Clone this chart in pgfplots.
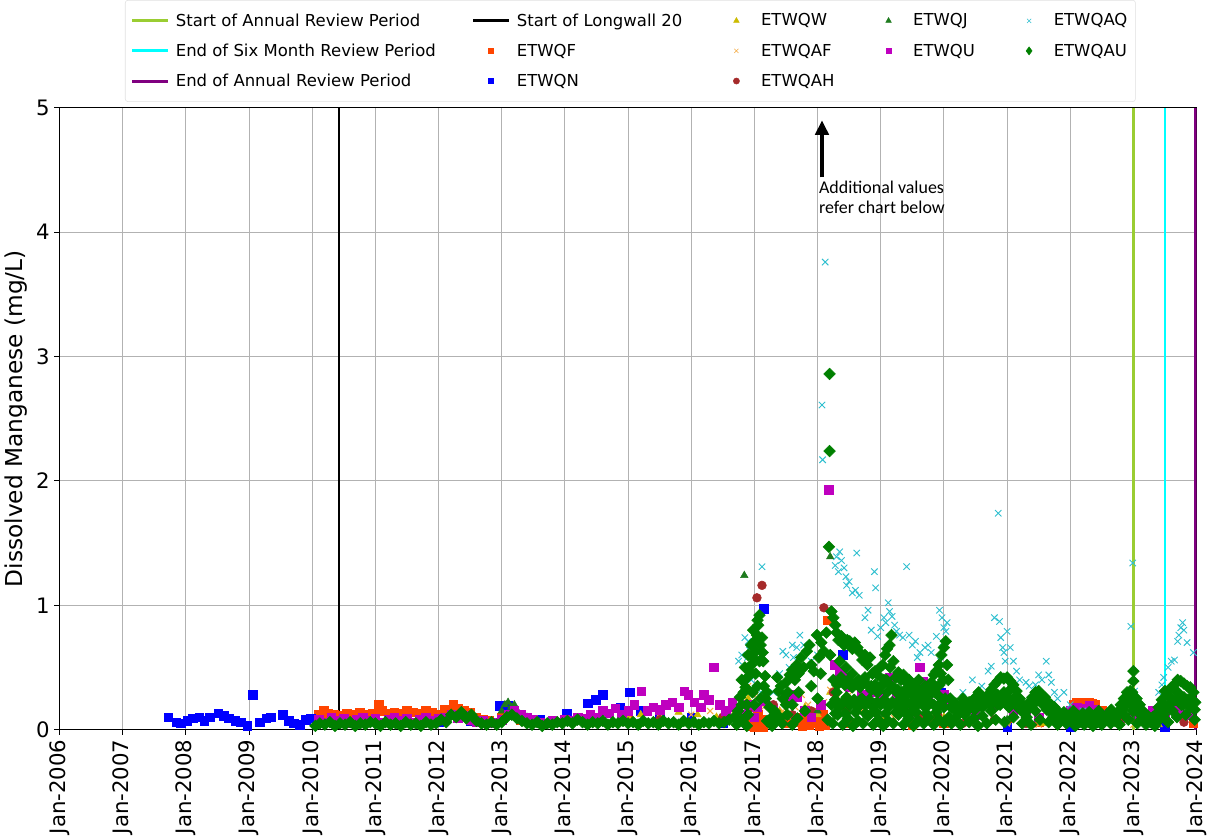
\documentclass[border=0pt]{standalone}
\usepackage{fontspec}
\setmainfont{DejaVu Sans}
\newfontfamily\annfont{Carlito}
\usepackage{pgfplots}
\pgfplotsset{compat=1.18}
\usetikzlibrary{arrows.meta}
\definecolor{cStartAnn}{HTML}{9ACD32}
\definecolor{cSix}{HTML}{00FFFF}
\definecolor{cEndAnn}{HTML}{800080}
\definecolor{cF}{HTML}{FF4500}
\definecolor{cN}{HTML}{0000FF}
\definecolor{cW}{HTML}{CCBB00}
\definecolor{cAF}{HTML}{F4A940}
\definecolor{cAH}{HTML}{A52A2A}
\definecolor{cJ}{HTML}{1E7B1E}
\definecolor{cU}{HTML}{BF00BF}
\definecolor{cAQ}{HTML}{2EBFCF}
\definecolor{cAU}{HTML}{008000}
\begin{document}
\begin{tikzpicture}
\begin{axis}[
  width=855.75pt, height=468pt, scale only axis,
  xmin=2006, xmax=2024, ymin=0, ymax=5,
  xtick={2006,2007,2008,2009,2010,2011,2012,2013,2014,2015,2016,2017,2018,2019,2020,2021,2022,2023,2024},
  xticklabels={Jan-2006,Jan-2007,Jan-2008,Jan-2009,Jan-2010,Jan-2011,Jan-2012,Jan-2013,Jan-2014,Jan-2015,Jan-2016,Jan-2017,Jan-2018,Jan-2019,Jan-2020,Jan-2021,Jan-2022,Jan-2023,Jan-2024},
  x tick label style={rotate=90, anchor=east, font=\fontsize{16}{18}\selectfont},
  ytick={0,1,2,3,4,5},
  y tick label style={font=\fontsize{16}{18}\selectfont},
  /pgf/number format/assume math mode=true,
  tick align=outside, tick pos=left, major tick length=4pt,
  tick style={black, line width=0.8pt},
  grid=major, major grid style={color=black!30, line width=0.8pt},
  axis line style={line width=0.8pt},
  ylabel={Dissolved Manganese (mg/L)},
  ylabel style={font=\fontsize{17.5}{20}\selectfont},
  legend columns=5,
  legend cell align=left,
  legend style={at={(0.502,1)}, anchor=south, yshift=4.5pt,
    font=\fontsize{12.4}{15}\selectfont, draw=black!12, rounded corners=2pt,
    row sep=7.75pt, inner xsep=4pt, inner ysep=8pt,
    /tikz/every even column/.append style={column sep=25pt}},
  legend image code/.code={\path (0cm,0cm) (1.05cm,0cm);
    \draw[mark repeat=2,mark phase=2] plot coordinates {(0cm,0cm)(0.475cm,0cm)(0.95cm,0cm)};},
]
% ---- legend (row-wise order for 5 columns) ----
\addlegendimage{cStartAnn, line width=2.2pt}
\addlegendentry{Start of Annual Review Period}
\addlegendimage{black, line width=2.2pt}
\addlegendentry{Start of Longwall 20}
\addlegendimage{only marks, mark=triangle*, mark size=2.4pt, cW}
\addlegendentry{ETWQW}
\addlegendimage{only marks, mark=triangle*, mark size=2.4pt, cJ}
\addlegendentry{ETWQJ}
\addlegendimage{only marks, mark=x, mark size=2.2pt, cAQ}
\addlegendentry{ETWQAQ}
\addlegendimage{cSix, line width=2.2pt}
\addlegendentry{End of Six Month Review Period}
\addlegendimage{only marks, mark=square*, mark size=2pt, cF}
\addlegendentry{ETWQF}
\addlegendimage{only marks, mark=x, mark size=2.2pt, cAF}
\addlegendentry{ETWQAF}
\addlegendimage{only marks, mark=square*, mark size=2pt, cU}
\addlegendentry{ETWQU}
\addlegendimage{only marks, mark=diamond*, mark size=3pt, cAU}
\addlegendentry{ETWQAU}
\addlegendimage{cEndAnn, line width=2.2pt}
\addlegendentry{End of Annual Review Period}
\addlegendimage{only marks, mark=square*, mark size=2pt, cN}
\addlegendentry{ETWQN}
\addlegendimage{only marks, mark=*, mark size=2.3pt, cAH}
\addlegendentry{ETWQAH}
\addlegendimage{empty legend}
\addlegendentry{}
\addlegendimage{empty legend}
\addlegendentry{}

% ---- ETWQF ----
\addplot[forget plot, only marks, mark=square*, mark size=3.2pt, cF] coordinates {
(2010.1,0.12) (2010.18,0.15) (2010.25,0.13) (2010.35,0.12) (2010.45,0.11) (2010.55,0.13) (2010.65,0.12) (2010.75,0.14) (2010.85,0.12) (2010.95,0.13)
(2011.05,0.2) (2011.1,0.15) (2011.2,0.13) (2011.3,0.14) (2011.4,0.13) (2011.5,0.15) (2011.6,0.14) (2011.7,0.13) (2011.8,0.15) (2011.9,0.14)
(2012.0,0.12) (2012.1,0.16) (2012.23,0.2) (2012.3,0.17) (2012.4,0.15) (2012.5,0.14) (2012.6,0.1) (2012.7,0.08) (2012.8,0.07)
(2013.0,0.1) (2013.3,0.08) (2013.6,0.06) (2014.0,0.07) (2014.5,0.08) (2015.0,0.09) (2015.5,0.1) (2016.0,0.08) (2016.5,0.07)
(2016.9,0.05) (2016.93,0.08) (2016.96,0.03) (2016.99,0.1) (2017.02,0.05) (2017.05,0.12) (2017.08,0.03) (2017.11,0.08) (2017.14,0.02) (2017.0,0.02)
(2017.5,0.05) (2017.7,0.06) (2017.73,0.1) (2017.76,0.03) (2017.8,0.08) (2017.83,0.12) (2017.86,0.04) (2017.9,0.09) (2017.93,0.14) (2017.96,0.05)
(2018.0,0.1) (2018.03,0.03) (2018.06,0.07) (2018.09,0.12) (2018.12,0.04) (2018.15,0.88) (2018.2,0.06) (2018.5,0.05) (2019.0,0.06) (2019.5,0.04)
(2019.8,0.08) (2020.0,0.05) (2021.0,0.05) (2021.5,0.06)
(2022.05,0.2) (2022.1,0.22) (2022.15,0.21) (2022.2,0.22) (2022.25,0.2) (2022.3,0.22) (2022.35,0.21) (2022.4,0.2) (2022.5,0.15) (2023.0,0.1) (2023.5,0.08) (2023.95,0.05)
};
% ---- ETWQN ----
\addplot[forget plot, only marks, mark=square*, mark size=3.2pt, cN] coordinates {
(2007.72,0.10) (2007.85,0.06) (2007.92,0.05) (2008.02,0.07) (2008.11,0.09) (2008.21,0.10) (2008.29,0.07) (2008.38,0.10)
(2008.51,0.13) (2008.60,0.11) (2008.68,0.09) (2008.78,0.07) (2008.87,0.06) (2008.97,0.03) (2009.06,0.28) (2009.17,0.06)
(2009.27,0.09) (2009.34,0.10) (2009.53,0.12) (2009.63,0.07) (2009.71,0.05) (2009.80,0.04) (2009.90,0.08) (2009.98,0.09)
(2010.1,0.07) (2010.5,0.08) (2011.0,0.07) (2011.5,0.08) (2012.0,0.06) (2012.5,0.07) (2012.97,0.19) (2013.10,0.19) (2013.3,0.1) (2013.6,0.08)
(2014.03,0.13) (2014.2,0.1) (2014.36,0.21) (2014.49,0.24) (2014.60,0.28) (2014.88,0.18) (2015.03,0.30) (2015.2,0.15) (2015.5,0.12) (2016.0,0.1)
(2016.5,0.05) (2017.0,0.1) (2017.15,0.97) (2018.4,0.6) (2019.95,0.3) (2020.0,0.2) (2021.0,0.02) (2022.0,0.02) (2023.5,0.02)
};
% ---- ETWQW ----
\addplot[forget plot, only marks, mark=triangle*, mark size=3.2pt, cW] coordinates {
(2010.3,0.05) (2010.8,0.04) (2011.3,0.06) (2011.9,0.05) (2012.5,0.08) (2013.0,0.06) (2013.5,0.05) (2014.0,0.06) (2014.5,0.08)
(2015.0,0.1) (2015.2,0.12) (2015.5,0.1) (2015.8,0.14) (2016.1,0.12) (2016.4,0.1) (2016.7,0.15) (2016.9,0.25) (2017.0,0.3)
(2017.2,0.2) (2017.4,0.15) (2017.6,0.22) (2017.8,0.18) (2018.0,0.12) (2018.2,0.3) (2018.4,0.2) (2018.6,0.15) (2018.8,0.22)
(2019.0,0.1) (2019.3,0.15) (2019.6,0.08) (2020.0,0.1) (2020.4,0.05) (2021.0,0.06) (2021.6,0.05) (2022.2,0.04) (2022.8,0.05) (2023.4,0.04)
};
% ---- ETWQAF ----
\addplot[forget plot, only marks, mark=x, mark size=3.2pt, line width=0.8pt, cAF] coordinates {
(2014.5,0.05) (2015.0,0.08) (2015.5,0.1) (2016.0,0.12) (2016.3,0.15) (2016.6,0.1) (2016.8,0.2) (2016.9,0.35) (2017.0,0.3) (2017.05,0.25)
(2017.15,0.18) (2017.3,0.2) (2017.45,0.15) (2017.55,0.25) (2017.65,0.18) (2017.75,0.28) (2017.85,0.2) (2017.95,0.15) (2018.1,0.22)
(2018.2,0.32) (2018.3,0.25) (2018.4,0.18) (2018.5,0.28) (2018.6,0.2) (2018.7,0.15) (2018.8,0.25) (2018.9,0.18) (2019.0,0.12)
(2019.1,0.2) (2019.2,0.1) (2019.4,0.15) (2019.6,0.08) (2019.8,0.12) (2020.0,0.1) (2020.2,0.05) (2020.5,0.08) (2021.0,0.05)
(2021.5,0.04) (2022.0,0.05) (2023.0,0.04)
};
% ---- ETWQAH ----
\addplot[forget plot, only marks, mark=*, mark size=3.3pt, cAH] coordinates {
(2010.5,0.05) (2011.5,0.06) (2012.5,0.07) (2013.5,0.05) (2014.5,0.06) (2015.5,0.08) (2016.5,0.1) (2016.9,0.15) (2017.04,1.06)
(2017.12,1.16) (2017.3,0.2) (2017.6,0.12) (2017.9,0.15) (2018.1,0.98) (2018.25,0.3) (2018.45,0.15) (2018.7,0.2) (2019.0,0.25)
(2019.3,0.15) (2019.6,0.1) (2019.9,0.12) (2020.3,0.05) (2020.8,0.08) (2021.3,0.05) (2021.8,0.06) (2022.3,0.05) (2022.8,0.07)
(2023.3,0.05) (2023.8,0.06)
};
% ---- ETWQJ ----
\addplot[forget plot, only marks, mark=triangle*, mark size=3.2pt, cJ] coordinates {
(2013.0,0.15) (2013.05,0.2) (2013.1,0.22) (2013.15,0.18) (2013.2,0.2) (2013.25,0.15) (2013.3,0.12) (2013.4,0.1) (2013.6,0.06)
(2014.0,0.05) (2014.5,0.06) (2015.0,0.05) (2015.5,0.06) (2016.0,0.05) (2016.84,1.24) (2017.0,0.2) (2017.5,0.1) (2018.0,0.15)
(2018.2,1.39) (2018.3,0.25) (2018.6,0.2) (2019.0,0.12) (2019.5,0.1) (2020.0,0.08) (2020.5,0.1) (2021.0,0.08) (2021.5,0.1)
(2022.0,0.06) (2022.5,0.08) (2023.0,0.1) (2023.5,0.08)
};
% ---- ETWQU ----
\addplot[forget plot, only marks, mark=square*, mark size=3.2pt, cU] coordinates {
(2010.1,0.08) (2010.2,0.06) (2010.3,0.1) (2010.4,0.07) (2010.5,0.09) (2010.6,0.05) (2010.7,0.08) (2010.8,0.1) (2010.9,0.07)
(2011.0,0.09) (2011.1,0.06) (2011.2,0.08) (2011.3,0.1) (2011.4,0.07) (2011.5,0.09) (2011.6,0.06) (2011.7,0.08) (2011.8,0.1) (2011.9,0.07)
(2012.0,0.09) (2012.1,0.1) (2012.2,0.12) (2012.3,0.09) (2012.4,0.11) (2012.5,0.08) (2012.6,0.06) (2012.7,0.07) (2012.8,0.05) (2012.9,0.06)
(2013.0,0.08) (2013.1,0.12) (2013.2,0.15) (2013.3,0.12) (2013.4,0.1) (2013.5,0.08) (2013.6,0.06) (2013.7,0.05) (2013.8,0.07) (2013.9,0.06)
(2014.0,0.08) (2014.1,0.07) (2014.2,0.1) (2014.3,0.09) (2014.4,0.12) (2014.5,0.1) (2014.6,0.15) (2014.7,0.13) (2014.8,0.17) (2014.9,0.12)
(2015.0,0.15) (2015.1,0.2) (2015.21,0.31) (2015.3,0.15) (2015.4,0.18) (2015.5,0.16) (2015.6,0.2) (2015.7,0.22) (2015.8,0.18) (2015.89,0.31)
(2015.95,0.28) (2016.05,0.22) (2016.15,0.18) (2016.2,0.28) (2016.28,0.24) (2016.36,0.5) (2016.45,0.2) (2016.55,0.15) (2016.65,0.22)
(2016.7,0.18) (2016.8,0.12) (2016.9,0.2) (2017.0,0.1) (2017.04,0.18) (2017.17,0.23) (2017.3,0.15) (2017.5,0.26) (2017.6,0.28)
(2017.67,0.26) (2017.8,0.15) (2017.9,0.1) (2018.05,0.2) (2018.18,1.93) (2018.27,0.52) (2018.35,0.47) (2018.46,0.42) (2018.5,0.34)
(2018.6,0.36) (2018.7,0.28) (2018.85,0.3) (2018.9,0.22) (2019.0,0.28) (2019.1,0.39) (2019.14,0.42) (2019.25,0.26) (2019.35,0.23)
(2019.45,0.2) (2019.55,0.28) (2019.62,0.5) (2019.67,0.39) (2019.75,0.28) (2019.88,0.31) (2020.0,0.28) (2020.1,0.2) (2020.3,0.15)
(2020.5,0.12) (2020.8,0.2) (2020.95,0.23) (2021.1,0.15) (2021.3,0.12) (2021.5,0.1) (2021.8,0.12) (2022.0,0.15) (2022.1,0.18)
(2022.2,0.17) (2022.3,0.19) (2022.4,0.16) (2022.6,0.12) (2022.9,0.1) (2023.1,0.12) (2023.3,0.15) (2023.5,0.12) (2023.7,0.18)
(2023.72,0.16) (2023.9,0.12)
};
% ---- ETWQAQ ----
\addplot[forget plot, only marks, mark=x, mark size=3.4pt, line width=0.7pt, cAQ] coordinates {
(2016.75,0.55) (2016.8,0.6) (2016.85,0.74) (2016.89,0.58) (2016.87,0.51) (2016.9,0.71) (2016.92,0.64) (2016.95,0.4) (2017.12,1.31)
(2017.1,0.3) (2017.2,0.2) (2017.3,0.3) (2017.4,0.45) (2017.45,0.63) (2017.5,0.6) (2017.55,0.5) (2017.6,0.68) (2017.62,0.58)
(2017.67,0.66) (2017.72,0.76) (2017.78,0.68) (2017.85,0.66) (2017.9,0.55) (2018.0,0.6)
(2018.07,2.61) (2018.08,2.17) (2018.12,3.76)
(2018.28,1.32) (2018.3,1.39) (2018.33,1.27) (2018.35,1.43) (2018.38,1.36) (2018.42,1.3) (2018.45,1.23) (2018.5,1.19) (2018.46,1.16)
(2018.55,1.1) (2018.6,1.12) (2018.62,1.42) (2018.66,1.08) (2018.9,1.27) (2018.92,1.14)
(2018.75,0.9) (2018.8,0.96) (2018.85,0.8) (2018.95,0.75) (2019.0,0.82) (2019.05,0.9) (2019.08,0.86) (2019.12,1.02) (2019.14,0.95)
(2019.18,0.91) (2019.22,0.84) (2019.25,0.79) (2019.3,0.76) (2019.35,0.74) (2019.41,1.31) (2019.45,0.76) (2019.5,0.68) (2019.55,0.71)
(2019.58,0.58) (2019.62,0.62) (2019.7,0.66) (2019.75,0.68) (2019.8,0.62) (2019.88,0.75) (2019.93,0.96) (2019.97,0.9) (2020.0,0.82)
(2020.03,0.79) (2020.05,0.86) (2019.98,0.7) (2019.95,0.55)
(2020.3,0.3) (2020.45,0.4) (2020.6,0.35) (2020.7,0.47) (2020.75,0.51) (2020.8,0.9) (2020.86,1.74) (2020.88,0.87) (2020.9,0.74)
(2020.93,0.66) (2020.95,0.62) (2020.97,0.55) (2021.0,0.79) (2021.05,0.66) (2021.1,0.55) (2021.15,0.47) (2021.2,0.4) (2021.3,0.38)
(2021.35,0.35) (2021.45,0.36) (2021.5,0.44) (2021.55,0.4) (2021.62,0.55) (2021.66,0.44) (2021.7,0.38) (2021.75,0.3) (2021.8,0.25)
(2021.9,0.3) (2022.0,0.2) (2022.2,0.15) (2022.5,0.1) (2022.8,0.15)
(2022.96,0.83) (2022.99,1.34) (2023.02,0.31) (2023.1,0.2)
(2023.4,0.3) (2023.45,0.36) (2023.48,0.42) (2023.55,0.5) (2023.6,0.55) (2023.65,0.56) (2023.7,0.71) (2023.72,0.76) (2023.75,0.82)
(2023.78,0.86) (2023.8,0.8) (2023.85,0.7) (2023.95,0.62)
};
% ---- ETWQAU ----
\addplot[forget plot, only marks, mark=square*, mark size=3.1pt, mark options={rotate=45}, cAU] coordinates {
(2010.05,0.03) (2010.12,0.05) (2010.2,0.04) (2010.28,0.06) (2010.36,0.03) (2010.44,0.05) (2010.52,0.04) (2010.6,0.06) (2010.68,0.03)
(2010.76,0.05) (2010.84,0.04) (2010.92,0.06) (2011.0,0.05) (2011.08,0.03) (2011.16,0.06) (2011.24,0.04) (2011.32,0.05) (2011.4,0.03)
(2011.48,0.06) (2011.56,0.04) (2011.64,0.05) (2011.72,0.03) (2011.8,0.06) (2011.88,0.04) (2011.96,0.05) (2012.04,0.08) (2012.12,0.06)
(2012.2,0.12) (2012.28,0.1) (2012.36,0.14) (2012.44,0.09) (2012.52,0.12) (2012.6,0.07) (2012.68,0.05) (2012.76,0.04) (2012.84,0.06)
(2012.92,0.04) (2013.0,0.06) (2013.08,0.1) (2013.16,0.12) (2013.24,0.09) (2013.32,0.07) (2013.4,0.05) (2013.48,0.04) (2013.56,0.06)
(2013.64,0.03) (2013.72,0.05) (2013.8,0.04) (2013.88,0.06) (2013.96,0.05) (2014.04,0.07) (2014.12,0.05) (2014.2,0.08) (2014.28,0.06)
(2014.36,0.04) (2014.44,0.06) (2014.52,0.05) (2014.6,0.07) (2014.68,0.04) (2014.76,0.06) (2014.84,0.05) (2014.92,0.07) (2015.0,0.05)
(2015.08,0.06) (2015.16,0.04) (2015.24,0.07) (2015.32,0.05) (2015.4,0.06) (2015.48,0.04) (2015.56,0.07) (2015.64,0.05) (2015.72,0.06)
(2015.8,0.04) (2015.88,0.07) (2015.96,0.05) (2016.04,0.06) (2016.12,0.04) (2016.2,0.06) (2016.28,0.05) (2016.36,0.07) (2016.44,0.05)
(2016.52,0.06) (2016.6,0.08) (2016.68,0.1)
(2016.74,0.15) (2016.77,0.26) (2016.8,0.2) (2016.83,0.3) (2016.86,0.34) (2016.89,0.42) (2016.92,0.47) (2016.95,0.52) (2016.98,0.58)
(2017.0,0.71) (2017.02,0.63) (2017.04,0.76) (2017.06,0.84) (2017.08,0.92) (2017.1,0.68) (2017.12,0.74) (2017.14,0.55) (2017.17,0.43)
(2017.2,0.3) (2017.24,0.18) (2017.28,0.1) (2016.9,0.12) (2017.0,0.2) (2017.1,0.25) (2017.05,0.35) (2017.02,0.45) (2017.08,0.55) (2016.97,0.3)
(2016.85,0.5) (2016.9,0.6) (2016.95,0.68) (2016.98,0.8) (2017.05,0.88) (2017.13,0.62) (2017.15,0.35) (2017.18,0.25) (2016.8,0.4) (2016.88,0.2)
(2017.32,0.15) (2017.36,0.42) (2017.38,0.31) (2017.42,0.35) (2017.45,0.25) (2017.5,0.38) (2017.53,0.3) (2017.56,0.44) (2017.6,0.48)
(2017.64,0.4) (2017.67,0.52) (2017.7,0.45) (2017.74,0.58) (2017.78,0.5) (2017.83,0.63) (2017.87,0.68) (2017.9,0.52) (2017.94,0.47)
(2017.99,0.76) (2018.02,0.58) (2018.06,0.7) (2018.1,0.63) (2018.14,0.78) (2018.18,1.47) (2018.19,2.86) (2018.19,2.24)
(2018.22,0.95) (2018.25,0.9) (2018.28,0.84) (2018.3,0.78) (2018.33,0.72) (2018.38,0.75) (2018.42,0.68) (2018.47,0.72) (2018.51,0.71)
(2018.55,0.65) (2018.59,0.7) (2018.63,0.66) (2018.67,0.62) (2018.71,0.56) (2018.75,0.6) (2018.79,0.52) (2018.83,0.58) (2018.87,0.45)
(2018.91,0.47) (2018.95,0.44) (2018.99,0.5) (2019.03,0.52) (2019.07,0.6) (2019.1,0.65) (2019.14,0.68) (2019.17,0.76) (2019.2,0.55)
(2019.24,0.42) (2019.28,0.46) (2019.32,0.4) (2019.36,0.44) (2019.41,0.38) (2019.45,0.4) (2019.5,0.36) (2019.55,0.34) (2019.6,0.4)
(2019.65,0.31) (2019.7,0.35) (2019.75,0.3) (2019.8,0.38) (2019.84,0.44) (2019.88,0.47) (2019.92,0.52) (2019.96,0.6) (2020.0,0.66)
(2020.03,0.71) (2020.05,0.52) (2020.07,0.4) (2020.1,0.25)
(2018.35,0.55) (2018.45,0.5) (2018.55,0.45) (2018.65,0.4) (2018.75,0.42) (2018.85,0.35) (2018.95,0.3) (2019.05,0.4) (2019.15,0.5)
(2019.25,0.3) (2019.4,0.28) (2019.55,0.25) (2019.7,0.27) (2019.85,0.3) (2019.95,0.45) (2017.5,0.2) (2017.7,0.3) (2017.9,0.35)
(2018.05,0.45) (2018.2,0.6)
(2017.4,0.1) (2017.6,0.2) (2017.8,0.15) (2018.0,0.25) (2018.3,0.3) (2018.5,0.2) (2018.7,0.25) (2018.9,0.15) (2019.1,0.3) (2019.3,0.2)
(2019.5,0.15) (2019.7,0.22) (2019.9,0.28) (2020.0,0.18)
(2018.22,0.2) (2018.28,0.24) (2018.34,0.18) (2018.4,0.22) (2018.46,0.26) (2018.52,0.2) (2018.58,0.24) (2018.64,0.18) (2018.7,0.22)
(2018.76,0.2) (2018.82,0.24) (2018.88,0.18) (2018.94,0.22) (2019.0,0.2) (2019.06,0.24) (2019.12,0.18) (2019.18,0.22) (2019.24,0.2)
(2019.3,0.24) (2019.36,0.18) (2019.42,0.22) (2019.48,0.2) (2019.54,0.18) (2019.6,0.22) (2019.66,0.2) (2019.72,0.18) (2019.78,0.22)
(2019.84,0.2) (2019.9,0.18) (2019.96,0.22) (2020.02,0.25)
(2018.25,0.4) (2018.31,0.36) (2018.37,0.42) (2018.43,0.36) (2018.49,0.4) (2018.55,0.34) (2018.61,0.38) (2018.67,0.34) (2018.73,0.4)
(2018.79,0.36) (2018.85,0.32) (2018.91,0.36) (2018.97,0.34) (2019.03,0.36) (2019.09,0.4) (2019.15,0.36) (2019.21,0.34) (2019.27,0.32)
(2019.33,0.3) (2019.39,0.32) (2019.45,0.3) (2019.51,0.28) (2019.57,0.3) (2019.63,0.28) (2019.69,0.3) (2019.75,0.32) (2019.81,0.3)
(2019.87,0.34) (2019.93,0.36) (2019.99,0.4)
(2018.28,0.13) (2018.44,0.13) (2018.6,0.14) (2018.76,0.13) (2018.92,0.14) (2019.08,0.13) (2019.24,0.14) (2019.4,0.13) (2019.56,0.14)
(2019.72,0.13) (2019.88,0.14)
(2016.72,0.04) (2016.8,0.08) (2016.88,0.03) (2017.2,0.07) (2017.28,0.03) (2017.36,0.08) (2017.44,0.05) (2017.52,0.12) (2017.6,0.04)
(2017.68,0.09) (2018.16,0.08) (2018.24,0.05) (2018.32,0.12) (2018.4,0.04) (2018.48,0.09) (2018.56,0.03) (2018.64,0.07) (2018.72,0.05)
(2018.8,0.11) (2018.88,0.04) (2018.96,0.08) (2019.04,0.03) (2019.12,0.07) (2019.2,0.05) (2019.28,0.12) (2019.36,0.04) (2019.44,0.09)
(2019.52,0.03) (2019.6,0.07) (2019.68,0.05) (2019.76,0.1) (2019.84,0.04) (2019.92,0.08) (2020.0,0.05) (2020.08,0.1)
(2020.15,0.2) (2020.2,0.15) (2020.25,0.18) (2020.3,0.25) (2020.35,0.2) (2020.4,0.22) (2020.45,0.18) (2020.5,0.26) (2020.55,0.3)
(2020.6,0.25) (2020.65,0.2) (2020.7,0.28) (2020.75,0.32) (2020.8,0.36) (2020.85,0.39) (2020.9,0.42) (2020.95,0.41) (2021.0,0.42)
(2021.05,0.39) (2021.1,0.36) (2021.15,0.31) (2021.2,0.25) (2021.25,0.2) (2021.3,0.18) (2021.35,0.22) (2021.4,0.26) (2021.45,0.3)
(2021.5,0.31) (2021.55,0.28) (2021.6,0.26) (2021.65,0.22) (2021.7,0.2) (2021.75,0.18) (2021.8,0.15) (2021.85,0.12) (2021.9,0.14)
(2021.95,0.1) (2022.0,0.12) (2022.05,0.15) (2022.1,0.12) (2022.15,0.1) (2022.2,0.13) (2022.25,0.11) (2022.3,0.14) (2022.35,0.1)
(2022.4,0.12) (2022.45,0.15) (2022.5,0.12) (2022.55,0.1) (2022.6,0.13) (2022.65,0.16) (2022.7,0.12) (2022.75,0.14) (2022.8,0.2)
(2022.85,0.25) (2022.9,0.3) (2022.95,0.31) (2023.0,0.39) (2023.0,0.47) (2023.05,0.25) (2023.1,0.2) (2023.15,0.15) (2023.2,0.12)
(2023.25,0.1) (2023.3,0.08) (2023.35,0.12) (2023.4,0.18) (2023.45,0.24) (2023.5,0.31) (2023.55,0.28) (2023.6,0.34) (2023.65,0.36)
(2023.7,0.4) (2023.75,0.39) (2023.8,0.37) (2023.85,0.35) (2023.9,0.34) (2023.95,0.3) (2023.98,0.22)
(2020.12,0.05) (2020.19,0.1) (2020.26,0.04) (2020.33,0.12) (2020.4,0.06) (2020.47,0.09) (2020.54,0.03) (2020.61,0.11) (2020.68,0.05)
(2020.75,0.15) (2020.82,0.08) (2020.89,0.2) (2020.96,0.06) (2021.03,0.25) (2021.1,0.1) (2021.17,0.18) (2021.24,0.05) (2021.31,0.1)
(2021.38,0.04) (2021.45,0.15) (2021.52,0.08) (2021.59,0.2) (2021.66,0.06) (2021.73,0.1) (2021.8,0.04) (2021.87,0.08) (2021.94,0.05)
(2022.01,0.07) (2022.08,0.03) (2022.15,0.06) (2022.22,0.04) (2022.29,0.07) (2022.36,0.03) (2022.43,0.06) (2022.5,0.04) (2022.57,0.08)
(2022.64,0.05) (2022.71,0.07) (2022.78,0.04) (2022.85,0.12) (2022.92,0.08) (2022.99,0.15) (2023.06,0.05) (2023.13,0.08) (2023.2,0.04)
(2023.27,0.06) (2023.34,0.03) (2023.41,0.08) (2023.48,0.12) (2023.55,0.06) (2023.62,0.15) (2023.69,0.1) (2023.76,0.2) (2023.83,0.12)
(2023.9,0.18) (2023.97,0.08)
(2020.85,0.28) (2020.95,0.3) (2021.05,0.32) (2021.12,0.25) (2023.6,0.25) (2023.7,0.3) (2023.8,0.26) (2023.9,0.25) (2023.02,0.22) (2022.98,0.3)
(2020.13,0.17) (2020.19,0.21) (2020.25,0.16) (2020.31,0.2) (2020.37,0.15) (2020.43,0.19) (2020.49,0.16) (2020.55,0.2) (2020.61,0.18)
(2020.67,0.22) (2020.73,0.2) (2020.79,0.24) (2020.85,0.2) (2020.91,0.26) (2020.97,0.22) (2021.03,0.18) (2021.09,0.24) (2021.15,0.2)
(2021.21,0.16) (2021.27,0.13) (2021.33,0.16) (2021.39,0.2) (2021.45,0.22) (2021.51,0.24) (2021.57,0.2) (2021.63,0.16) (2021.69,0.14)
(2021.75,0.12) (2021.81,0.1) (2021.87,0.12) (2021.93,0.09) (2021.99,0.1) (2022.05,0.09) (2022.11,0.08) (2022.17,0.1) (2022.23,0.09)
(2022.29,0.1) (2022.35,0.08) (2022.41,0.09) (2022.47,0.1) (2022.53,0.08) (2022.59,0.1) (2022.65,0.09) (2022.71,0.1) (2022.77,0.12)
(2022.83,0.16) (2022.89,0.2) (2022.95,0.24) (2023.01,0.18) (2023.07,0.14) (2023.13,0.12) (2023.19,0.09) (2023.25,0.08) (2023.31,0.1)
(2023.37,0.08) (2023.43,0.14) (2023.49,0.2) (2023.55,0.18) (2023.61,0.22) (2023.67,0.24) (2023.73,0.22) (2023.79,0.2) (2023.85,0.24)
(2023.91,0.22) (2023.97,0.16)
};
% ---- vertical reference lines ----
\addplot[forget plot, black, line width=1.6pt] coordinates {(2010.42,0) (2010.42,5)};
\addplot[forget plot, cStartAnn, line width=2pt] coordinates {(2023.0,0) (2023.0,5)};
\addplot[forget plot, cSix, line width=2pt] coordinates {(2023.5,0) (2023.5,5)};
\addplot[forget plot, cEndAnn, line width=2pt] coordinates {(2023.98,0) (2023.98,5)};
% ---- annotation ----
\draw[-{Triangle[width=10pt,length=11pt]}, line width=3pt] (axis cs:2018.07,4.44) -- (axis cs:2018.07,4.9);
\node[anchor=north west, align=left, inner sep=0pt, font=\annfont\fontsize{13.5}{15}\selectfont] at (axis cs:2018.02,4.41) {Additional values\\refer chart below};
\end{axis}
\end{tikzpicture}
\end{document}
